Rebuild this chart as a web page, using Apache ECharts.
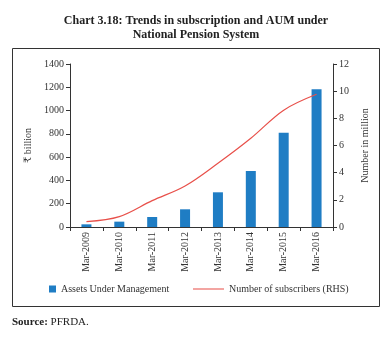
<!DOCTYPE html>
<html>
<head>
<meta charset="utf-8">
<script src="https://cdn.jsdelivr.net/npm/echarts@6/dist/echarts.min.js"></script>
<style>
  html, body { margin: 0; padding: 0; background: #fff; }
  #chart { width: 392px; height: 343px; }
</style>
</head>
<body>
<div id="chart"></div>
<script>
// Year-end categories (March of each year)
const categories = ['Mar-2009', 'Mar-2010', 'Mar-2011', 'Mar-2012', 'Mar-2013', 'Mar-2014', 'Mar-2015', 'Mar-2016'];
// Assets Under Management, ₹ billion (left axis)
const aumBillion = [23, 46, 86, 152, 298, 481, 810, 1183];
// Number of subscribers, million (right axis)
const subscribersMillion = [0.39, 0.76, 1.94, 3.02, 4.69, 6.53, 8.6, 9.77];
// Axis tick settings
const leftTicks = { min: 0, max: 1400, interval: 200 };
const rightTicks = { min: 0, max: 12, interval: 2 };

const serif = '"Liberation Serif", "DejaVu Serif", serif';
const axisColor = '#333';
const textColor = '#333';
const lineColor = '#e8504a';

const chart = echarts.init(document.getElementById('chart'), null, { renderer: 'canvas' });

chart.setOption({
  backgroundColor: '#fff',
  animation: false,
  textStyle: { fontFamily: serif, color: textColor },
  title: {
    text: 'Chart 3.18: Trends in subscription and AUM under\nNational Pension System',
    left: 'center',
    top: 9,
    textStyle: { fontFamily: serif, fontSize: 12, fontWeight: 'bold', color: '#222', lineHeight: 14 }
  },
  graphic: [
    {
      type: 'rect',
      shape: { x: 12.5, y: 48.5, width: 367, height: 258 },
      style: { fill: 'none', stroke: '#333', lineWidth: 1 },
      silent: true
    },
    {
      type: 'text',
      left: 12,
      top: 317,
      style: {
        text: '{b|Source:} PFRDA.',
        fontFamily: serif,
        fontSize: 11,
        fill: '#222',
        rich: { b: { fontWeight: 'bold', fontFamily: serif, fontSize: 11, fill: '#222' } }
      }
    }
  ],
  legend: [
    {
      data: ['Assets Under Management'],
      left: 49,
      top: 284,
      icon: 'rect',
      itemWidth: 7,
      itemHeight: 7,
      itemGap: 10,
      textStyle: { fontFamily: serif, fontSize: 10, color: textColor },
      padding: 0
    },
    {
      data: ['Number of subscribers (RHS)'],
      left: 193,
      top: 284,
      icon: 'path://M0,0L30,0L30,1L0,1Z',
      itemWidth: 31,
      itemHeight: 1.2,
      itemStyle: { color: lineColor },
      textStyle: { fontFamily: serif, fontSize: 10, color: textColor },
      padding: 0
    }
  ],
  grid: { left: 70, right: 59, top: 64, bottom: 116, containLabel: false },
  xAxis: {
    type: 'category',
    data: categories,
    boundaryGap: true,
    axisLine: { lineStyle: { color: axisColor, width: 1 } },
    axisTick: { show: true, length: 4, inside: false, alignWithLabel: false, lineStyle: { color: axisColor } },
    axisLabel: { rotate: 90, fontSize: 10, fontFamily: serif, color: textColor, margin: 5, interval: 0 },
    splitLine: { show: false }
  },
  yAxis: [
    {
      type: 'value',
      min: leftTicks.min,
      max: leftTicks.max,
      interval: leftTicks.interval,
      name: '₹ billion',
      nameLocation: 'middle',
      nameRotate: 90,
      nameGap: 37,
      nameTextStyle: { fontFamily: serif, fontSize: 10, color: textColor },
      axisLine: { show: true, lineStyle: { color: axisColor, width: 1 } },
      axisTick: { show: true, length: 4, lineStyle: { color: axisColor } },
      axisLabel: { fontSize: 10, fontFamily: serif, color: textColor, margin: 6, formatter: v => String(v) },
      splitLine: { show: false }
    },
    {
      type: 'value',
      position: 'right',
      min: rightTicks.min,
      max: rightTicks.max,
      interval: rightTicks.interval,
      name: 'Number in million',
      nameLocation: 'middle',
      nameRotate: 90,
      nameGap: 26,
      nameTextStyle: { fontFamily: serif, fontSize: 10, color: textColor },
      axisLine: { show: true, lineStyle: { color: axisColor, width: 1 } },
      axisTick: { show: true, length: 4, lineStyle: { color: axisColor } },
      axisLabel: { fontSize: 10, fontFamily: serif, color: textColor, margin: 6, formatter: v => String(v) },
      splitLine: { show: false }
    }
  ],
  series: [
    {
      name: 'Assets Under Management',
      type: 'bar',
      yAxisIndex: 0,
      data: aumBillion,
      barWidth: 10,
      itemStyle: { color: '#1f7dc4' }
    },
    {
      name: 'Number of subscribers (RHS)',
      type: 'line',
      yAxisIndex: 1,
      data: subscribersMillion,
      smooth: 0.35,
      symbol: 'none',
      lineStyle: { color: lineColor, width: 1.2 },
      itemStyle: { color: lineColor }
    }
  ]
});
</script>
</body>
</html>
